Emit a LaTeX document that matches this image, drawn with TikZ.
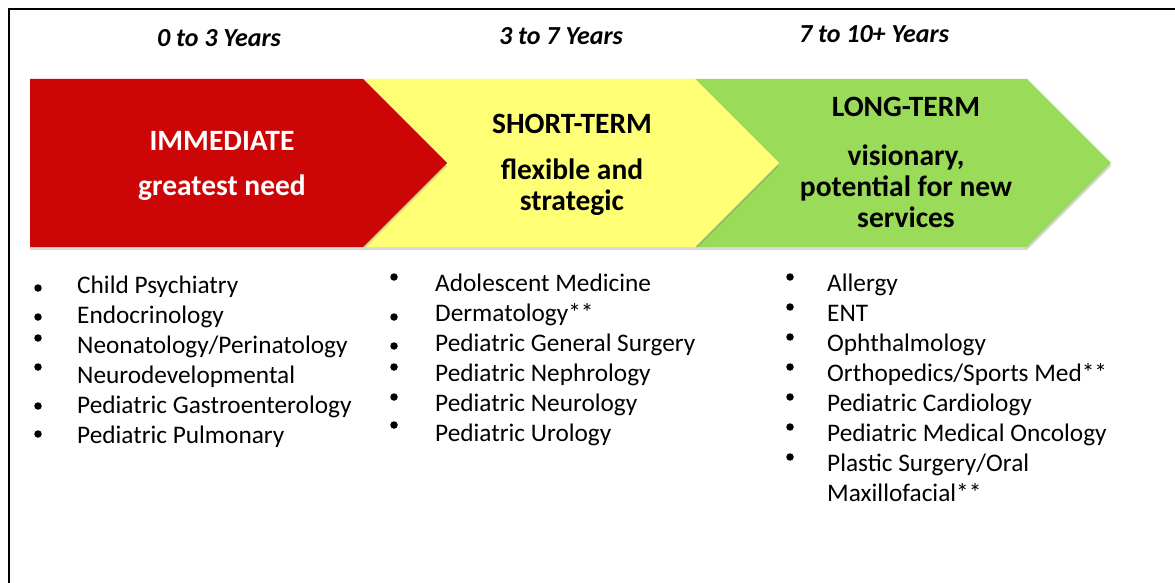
\documentclass[tikz,border=0pt]{standalone}
\usepackage{fontspec}
\setmainfont{Carlito}
\usetikzlibrary{positioning,shadows}

\definecolor{immred}{RGB}{204,6,6}
\definecolor{shortyellow}{RGB}{255,255,117}
\definecolor{longgreen}{RGB}{155,219,90}

\tikzset{
  chevron/.style={fill=#1, drop shadow={shadow xshift=0pt, shadow yshift=-3pt, opacity=0.3}},
  years/.style={anchor=base, font=\fontsize{26}{30}\selectfont\bfseries\itshape},
  phase/.style={anchor=base, font=\fontsize{29.5}{31}\selectfont\bfseries},
  blurb/.style={phase, align=center, font=\fontsize{29.5}{31}\selectfont\bfseries},
  item/.style={anchor=base west, inner sep=0pt, align=left, font=\fontsize{25.3}{30}\selectfont},
  dot/.style={circle, fill=black, inner sep=0pt, minimum size=7.5pt}
}

\begin{document}
\begin{tikzpicture}[x=1pt, y=-1pt]
  \useasboundingbox (0,0) rectangle (1175,583);
  \fill[white] (0,0) rectangle (1175,583);
  \draw[line width=2pt] (9,583) -- (9,9.5) -- (1175,9.5);

  % the three phases, drawn back to front
  \path[chevron=longgreen] (695,79) -- (1027,79) -- (1111,163) -- (1027,247) -- (695,247) -- (779,163) -- cycle;
  \path[chevron=shortyellow] (363,79) -- (695,79) -- (779,163) -- (695,247) -- (363,247) -- (447,163) -- cycle;
  \path[chevron=immred] (30,79) -- (363,79) -- (447,163) -- (363,247) -- (30,247) -- cycle;

  \node[years] (yrs1) at (219,47) {0 to 3 Years};
  \node[years] (yrs2) at (561,45) {3 to 7 Years};
  \node[years] (yrs3) at (874,43) {7 to 10+ Years};

  % base of a wrapped node sits on its last line
  \node[phase, text=white] (immed) at (222,150) {IMMEDIATE};
  \node[blurb, text=white, below=45pt of immed.base, anchor=base] (need) {greatest need};

  \node[phase] (short) at (572,134) {SHORT-TERM};
  \node[blurb, below=76pt of short.base, anchor=base] (flex) {flexible and\\strategic};

  \node[phase] (long) at (906,117) {LONG-TERM};
  \node[blurb, below=110pt of long.base, anchor=base] (vision) {visionary,\\potential for new\\services};

  % immediate list
  \node[item] (c1) at (77,293) {Child Psychiatry};
  \node[item, below=30pt of c1.base west, anchor=base west] (c2) {Endocrinology};
  \node[item, below=30pt of c2.base west, anchor=base west] (c3) {Neonatology/Perinatology};
  \node[item, below=30pt of c3.base west, anchor=base west] (c4) {Neurodevelopmental};
  \node[item, below=30pt of c4.base west, anchor=base west] (c5) {Pediatric Gastroenterology};
  \node[item, below=30pt of c5.base west, anchor=base west] (c6) {Pediatric Pulmonary};
  \node[dot, left=39pt of c1.base west, anchor=center, yshift=5pt] (c1dot) {};
  \node[dot, left=39pt of c2.base west, anchor=center, yshift=6pt] (c2dot) {};
  \node[dot, left=39pt of c3.base west, anchor=center, yshift=15pt] (c3dot) {};
  \node[dot, left=39pt of c4.base west, anchor=center, yshift=16pt] (c4dot) {};
  \node[dot, left=39pt of c5.base west, anchor=center, yshift=7pt] (c5dot) {};
  \node[dot, left=39pt of c6.base west, anchor=center, yshift=9pt] (c6dot) {};

  % short-term list
  \node[item] (s1) at (435,291) {Adolescent Medicine};
  \node[item, below=30pt of s1.base west, anchor=base west] (s2) {Dermatology**};
  \node[item, below=30pt of s2.base west, anchor=base west] (s3) {Pediatric General Surgery};
  \node[item, below=30pt of s3.base west, anchor=base west] (s4) {Pediatric Nephrology};
  \node[item, below=30pt of s4.base west, anchor=base west] (s5) {Pediatric Neurology};
  \node[item, below=30pt of s5.base west, anchor=base west] (s6) {Pediatric Urology};
  \node[dot, left=41pt of s1.base west, anchor=center, yshift=14pt] (s1dot) {};
  \node[dot, left=41pt of s2.base west, anchor=center, yshift=4pt] (s2dot) {};
  \node[dot, left=41pt of s3.base west, anchor=center, yshift=5pt] (s3dot) {};
  \node[dot, left=41pt of s4.base west, anchor=center, yshift=14pt] (s4dot) {};
  \node[dot, left=41pt of s5.base west, anchor=center, yshift=14pt] (s5dot) {};
  \node[dot, left=41pt of s6.base west, anchor=center, yshift=16pt] (s6dot) {};

  % long-term list
  \node[item] (l1) at (827,291) {Allergy};
  \node[item, below=30pt of l1.base west, anchor=base west] (l2) {ENT};
  \node[item, below=30pt of l2.base west, anchor=base west] (l3) {Ophthalmology};
  \node[item, below=30pt of l3.base west, anchor=base west] (l4) {Orthopedics/Sports Med**};
  \node[item, below=30pt of l4.base west, anchor=base west] (l5) {Pediatric Cardiology};
  \node[item, below=30pt of l5.base west, anchor=base west] (l6) {Pediatric Medical Oncology};
  \node[item, below=60pt of l6.base west, anchor=base west] (l7) {Plastic Surgery/Oral\\Maxillofacial**};
  \node[dot, left=37pt of l1.base west, anchor=center, yshift=14pt] (l1dot) {};
  \node[dot, left=37pt of l2.base west, anchor=center, yshift=14pt] (l2dot) {};
  \node[dot, left=37pt of l3.base west, anchor=center, yshift=14pt] (l3dot) {};
  \node[dot, left=37pt of l4.base west, anchor=center, yshift=14pt] (l4dot) {};
  \node[dot, left=37pt of l5.base west, anchor=center, yshift=14pt] (l5dot) {};
  \node[dot, left=37pt of l6.base west, anchor=center, yshift=14pt] (l6dot) {};
  \node[dot, left=37pt of l7.base west, anchor=center, yshift=44pt] (l7dot) {};
\end{tikzpicture}
\end{document}
